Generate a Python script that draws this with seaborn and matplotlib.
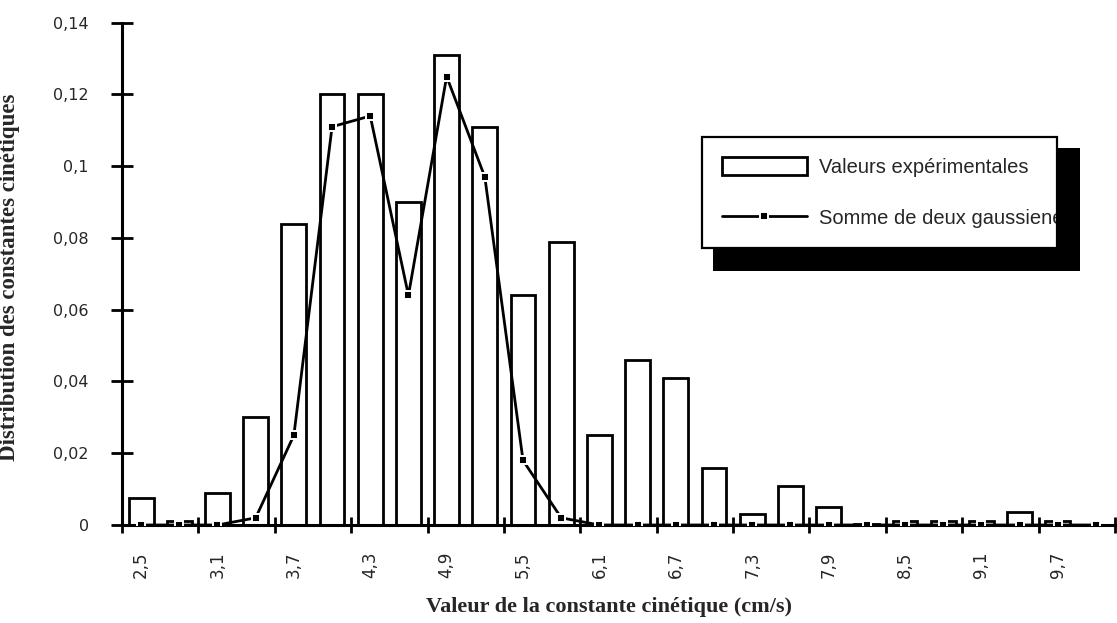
import numpy as np
import pandas as pd
import matplotlib
matplotlib.use("Agg")
import matplotlib.pyplot as plt
import seaborn as sns
from matplotlib.patches import Rectangle
from matplotlib.lines import Line2D
from matplotlib.transforms import IdentityTransform, Bbox

# ---- data ----
bins = ["2,5", "2,8", "3,1", "3,4", "3,7", "4,0", "4,3", "4,6", "4,9", "5,2",
        "5,5", "5,8", "6,1", "6,4", "6,7", "7,0", "7,3", "7,6", "7,9", "8,2",
        "8,5", "8,8", "9,1", "9,4", "9,7", "10,0"]
exp_vals = [0.0075, 0.001, 0.009, 0.030, 0.084, 0.120, 0.120, 0.090, 0.131, 0.111,
            0.064, 0.079, 0.025, 0.046, 0.041, 0.016, 0.003, 0.011, 0.005, 0.0003,
            0.001, 0.001, 0.001, 0.0035, 0.001, 0.0]
fit_vals = [0.0, 0.0, 0.0, 0.002, 0.025, 0.111, 0.114, 0.064, 0.125, 0.097,
            0.018, 0.002, 0.0, 0.0, 0.0, 0.0, 0.0, 0.0, 0.0, 0.0,
            0.0, 0.0, 0.0, 0.0, 0.0, 0.0]
x_tick_labels = ["2,5", "3,1", "3,7", "4,3", "4,9", "5,5", "6,1", "6,7",
                 "7,3", "7,9", "8,5", "9,1", "9,7"]
y_ticks = [0, 0.02, 0.04, 0.06, 0.08, 0.10, 0.12, 0.14]
y_tick_labels = ["0", "0,02", "0,04", "0,06", "0,08", "0,1", "0,12", "0,14"]
series_names = ["Valeurs expérimentales", "Somme de deux gaussienes"]
x_label = "Valeur de la constante cinétique (cm/s)"
y_label = "Distribution des constantes cinétiques"

df = pd.DataFrame({"bin": bins, "exp": exp_vals, "fit": fit_vals})

sns.set_theme(style="white")
plt.rcParams["font.family"] = ["DejaVu Sans"]

W, H = 1117, 623
fig = plt.figure(figsize=(W / 100, H / 100), dpi=100)
ax = fig.add_axes([122 / W, 98 / H, (1115 - 122) / W, (600.3 - 98) / H])
ax.patch.set_visible(False)

sns.barplot(data=df, x="bin", y="exp", order=bins, color="white", edgecolor="black",
            linewidth=2.0, width=0.65, saturation=1, errorbar=None, ax=ax, zorder=2)
sns.pointplot(data=df, x="bin", y="fit", order=bins, color="black", markers="s",
              markersize=5.5, linewidth=2.0, errorbar=None, ax=ax,
              markeredgecolor="white", markeredgewidth=1.4, zorder=3)

ax.set_xlim(-0.5, len(bins) - 0.5)
ax.set_ylim(0, 0.14)

# x ticks: labels at every other category centre, marks at boundaries
ax.set_xticks(range(0, len(bins), 2))
ax.set_xticklabels(x_tick_labels, rotation=90, fontsize=12)
ax.set_xticks(np.arange(-0.5, len(bins), 2), minor=True)
ax.tick_params(axis="x", which="major", length=0, pad=19, bottom=True)
ax.tick_params(axis="x", which="minor", direction="inout", length=11, width=2,
               color="black", bottom=True)

ax.set_yticks(y_ticks)
ax.set_yticklabels(y_tick_labels, fontsize=11.5)
ax.tick_params(axis="y", which="major", direction="inout", length=16, width=2,
               color="black", pad=16, left=True)

for s in ["top", "right"]:
    ax.spines[s].set_visible(False)
for s in ["left", "bottom"]:
    ax.spines[s].set_color("black")
    ax.spines[s].set_linewidth(2.2)

ax.set_xlabel(x_label, fontsize=16, fontweight="bold", family="Liberation Serif")
ax.xaxis.set_label_coords((609 - 122) / 993, -0.143)
ax.set_ylabel(y_label, fontsize=16.5, fontweight="bold", family="Liberation Serif")
ax.yaxis.set_label_coords(-0.103, 0.494)

handles = [Rectangle((0, 0), 1, 1, facecolor="white", edgecolor="black", linewidth=2.0),
           Line2D([], [], color="black", linewidth=2.0, marker="s", markersize=5.5,
                  markerfacecolor="black", markeredgecolor="white", markeredgewidth=1.4)]
leg = ax.legend(handles, series_names, loc="upper left",
                bbox_to_anchor=(702 / W, 1 - 137 / H), bbox_transform=fig.transFigure,
                borderaxespad=0, frameon=True, fancybox=False, framealpha=1,
                edgecolor="black", numpoints=1, handlelength=4.2, handleheight=1.0,
                handletextpad=0.6, labelspacing=1.55, borderpad=1.0,
                prop={"family": "Liberation Sans", "size": 14.5})
leg.get_frame().set_linewidth(1.6)
leg.set_zorder(6)

fig.canvas.draw()
bb = leg.get_window_extent()
# the legend frame of the original cuts the last label at its right edge
frame_right = bb.x0 + 355
frame_bounds = (bb.x0, bb.y0, frame_right - bb.x0, bb.height)
leg.legendPatch.set_bounds(frame_bounds)
leg.legendPatch.set_bounds = lambda *a, **k: None
clip = Bbox.from_extents(bb.x0, bb.y0, frame_right - 1, bb.y1)
for t in leg.get_texts():
    t.set_clip_box(clip)
    t.set_clip_on(True)

shadow = Rectangle((bb.x0 + 11, bb.y0 - 23), (frame_right - bb.x0) + 12, bb.height + 12,
                   transform=IdentityTransform(), facecolor="black", edgecolor="none",
                   zorder=5.5, clip_on=False)
ax.add_patch(shadow)

fig.savefig("out.png", dpi=100, facecolor="white")
